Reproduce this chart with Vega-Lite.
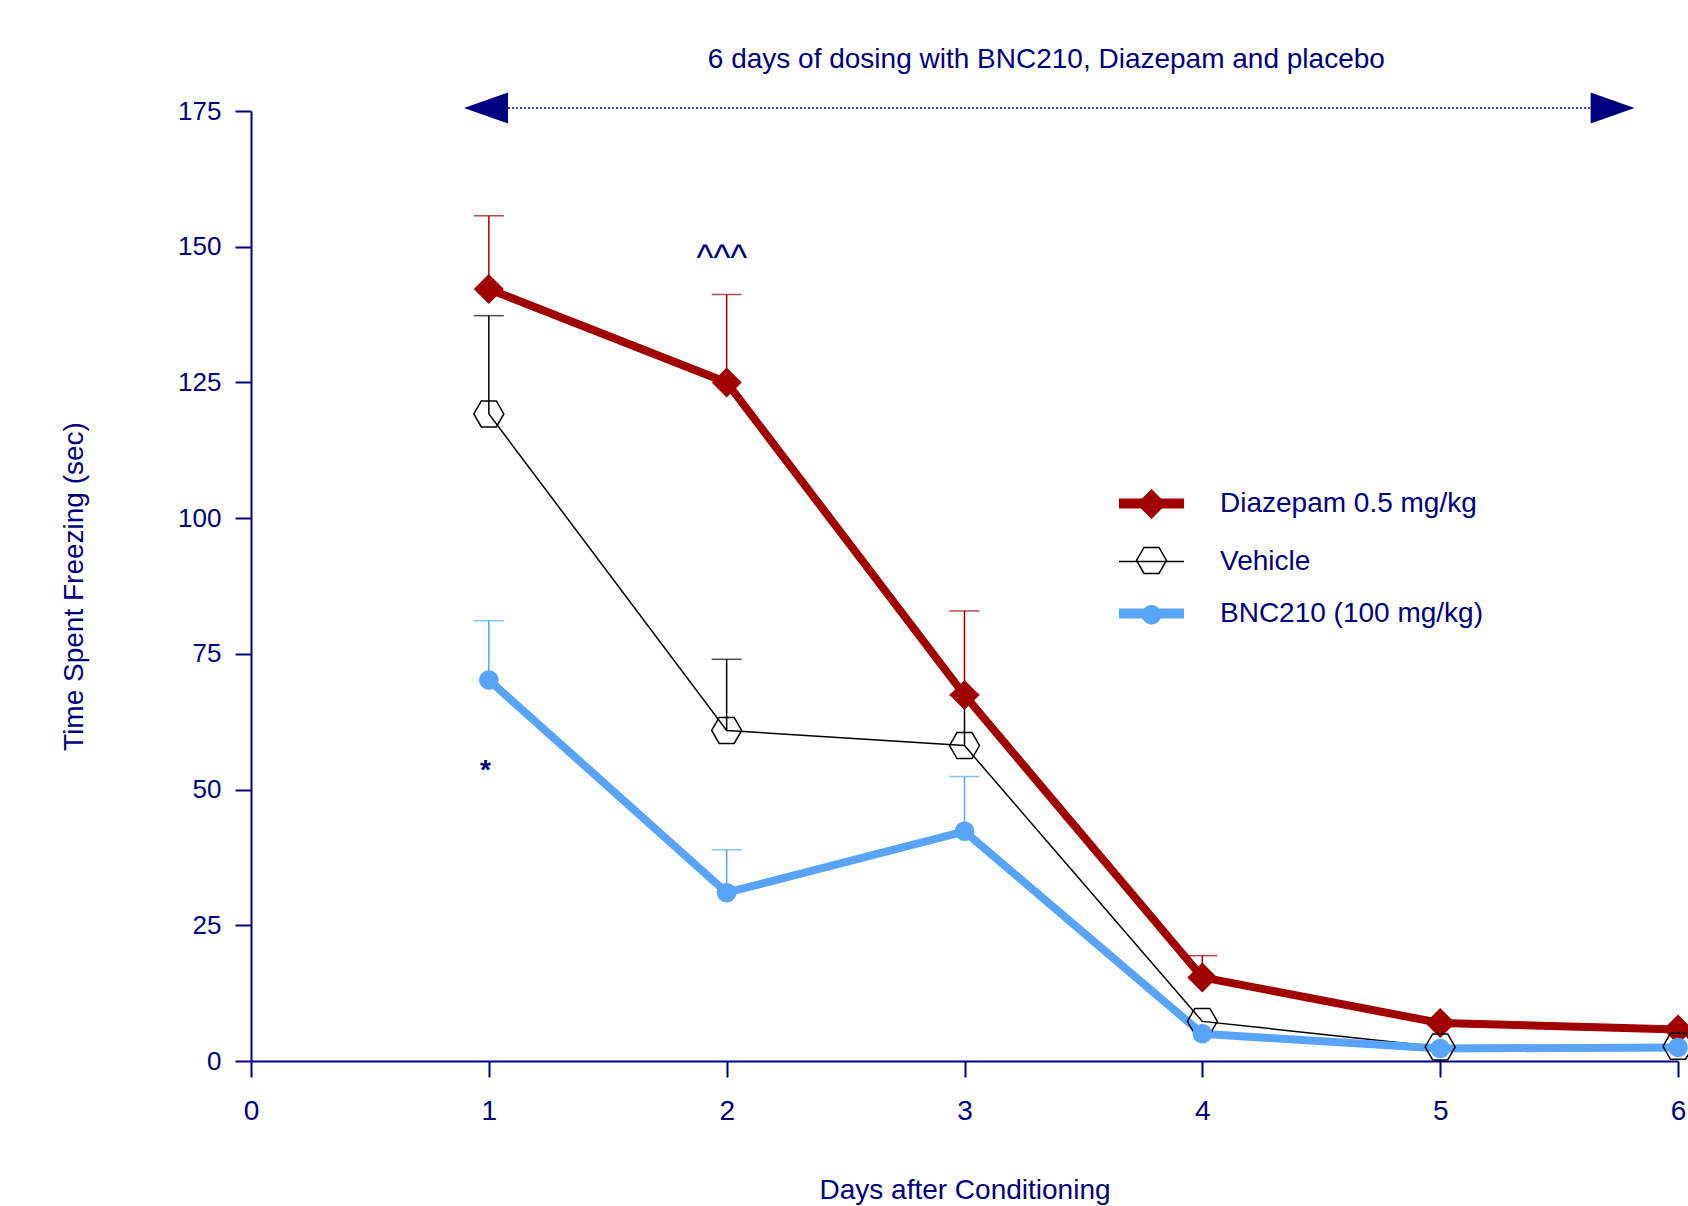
{
  "$schema": "https://vega.github.io/schema/vega-lite/v6.json",
  "width": 1427,
  "height": 950,
  "autosize": {"type": "none"},
  "padding": {"left": 251, "top": 111, "right": 10, "bottom": 145},
  "background": "white",
  "config": {
    "view": {"stroke": null},
    "font": "Liberation Sans",
    "axis": {
      "domainColor": "#000080", "domainWidth": 2,
      "tickColor": "#000080", "tickWidth": 2, "tickSize": 16,
      "labelColor": "#000080", "titleColor": "#000080",
      "titleFontWeight": "normal", "grid": false,
      "labelFont": "Liberation Sans", "titleFont": "Liberation Sans"
    }
  },
  "datasets": {
    "freezing": [
      {"day": 1, "series": "Diazepam 0.5 mg/kg", "mean": 142.2, "upper": 155.7},
      {"day": 2, "series": "Diazepam 0.5 mg/kg", "mean": 125.0, "upper": 141.2},
      {"day": 3, "series": "Diazepam 0.5 mg/kg", "mean": 67.4, "upper": 82.9},
      {"day": 4, "series": "Diazepam 0.5 mg/kg", "mean": 15.4, "upper": 19.4},
      {"day": 5, "series": "Diazepam 0.5 mg/kg", "mean": 7.0, "upper": null},
      {"day": 6, "series": "Diazepam 0.5 mg/kg", "mean": 5.8, "upper": null},
      {"day": 1, "series": "Vehicle", "mean": 119.2, "upper": 137.3},
      {"day": 2, "series": "Vehicle", "mean": 60.9, "upper": 74.0},
      {"day": 3, "series": "Vehicle", "mean": 58.1, "upper": 67.5},
      {"day": 4, "series": "Vehicle", "mean": 7.3, "upper": null},
      {"day": 5, "series": "Vehicle", "mean": 2.6, "upper": null},
      {"day": 6, "series": "Vehicle", "mean": 2.7, "upper": null},
      {"day": 1, "series": "BNC210 (100 mg/kg)", "mean": 70.2, "upper": 81.1},
      {"day": 2, "series": "BNC210 (100 mg/kg)", "mean": 31.0, "upper": 38.9},
      {"day": 3, "series": "BNC210 (100 mg/kg)", "mean": 42.3, "upper": 52.4},
      {"day": 4, "series": "BNC210 (100 mg/kg)", "mean": 5.0, "upper": null},
      {"day": 5, "series": "BNC210 (100 mg/kg)", "mean": 2.3, "upper": null},
      {"day": 6, "series": "BNC210 (100 mg/kg)", "mean": 2.5, "upper": null}
    ]
  },
  "layer": [
    {
      "data": {"name": "freezing"},
      "mark": {"type": "line"},
      "encoding": {
        "x": {"field": "day", "type": "quantitative",
          "scale": {"domain": [0, 6], "nice": false, "zero": true},
          "axis": {"values": [0, 1, 2, 3, 4, 5, 6], "format": "d", "labelFontSize": 28, "labelPadding": 20, "labelFlush": false, "labelOverlap": false,
            "title": "Days after Conditioning", "titleFontSize": 28, "titlePadding": 51}},
        "y": {"field": "mean", "type": "quantitative",
          "scale": {"domain": [0, 175], "nice": false},
          "axis": {"values": [0, 25, 50, 75, 100, 125, 150, 175], "labelFontSize": 26, "labelPadding": 14, "labelOverlap": false,
            "title": "Time Spent Freezing (sec)", "titleFontSize": 28, "titlePadding": 89}},
        "stroke": {"field": "series", "type": "nominal",
          "sort": ["Diazepam 0.5 mg/kg", "Vehicle", "BNC210 (100 mg/kg)"],
          "scale": {"range": ["#a00000", "#000000", "#58a4f8"]},
          "legend": {"orient": "none", "legendX": 863, "legendY": 355, "title": null, "padding": 0,
            "symbolType": "stroke", "symbolSize": 4225, "symbolStrokeWidth": 10,
            "labelFontSize": 28, "labelFont": "Liberation Sans", "labelColor": "#000080", "labelOffset": 31, "labelLimit": 0, "rowPadding": -12,
            "encoding": {"symbols": {"strokeWidth": {"value": {"expr": "(datum.value === 'Vehicle' ? 1.5 : 10)"}}}}}},
        "strokeWidth": {"condition": {"test": "datum.series === 'Vehicle'", "value": 1.5}, "value": 8}
      }
    },
    {
      "data": {"name": "freezing"},
      "transform": [{"filter": {"field": "upper", "valid": true}}],
      "mark": {"type": "rule", "strokeWidth": 1.5},
      "encoding": {
        "x": {"field": "day", "type": "quantitative"},
        "y": {"field": "mean", "type": "quantitative"},
        "y2": {"field": "upper"},
        "color": {"condition": [{"test": "datum.series === 'Vehicle'", "value": "#000000"}, {"test": "datum.series === 'BNC210 (100 mg/kg)'", "value": "#58a4f8"}], "value": "#a00000"}
      }
    },
    {
      "data": {"name": "freezing"},
      "transform": [{"filter": {"field": "upper", "valid": true}}],
      "mark": {"type": "tick", "orient": "horizontal", "size": 30, "thickness": 1.5},
      "encoding": {
        "x": {"field": "day", "type": "quantitative"},
        "y": {"field": "upper", "type": "quantitative"},
        "color": {"condition": [{"test": "datum.series === 'Vehicle'", "value": "#000000"}, {"test": "datum.series === 'BNC210 (100 mg/kg)'", "value": "#58a4f8"}], "value": "#a00000"}
      }
    },
    {
      "data": {"name": "freezing"},
      "mark": {"type": "point", "filled": true, "size": 900, "opacity": 1, "strokeWidth": 1.5},
      "encoding": {
        "x": {"field": "day", "type": "quantitative"},
        "y": {"field": "mean", "type": "quantitative"},
        "fill": {"field": "series", "type": "nominal",
          "scale": {"domain": ["Diazepam 0.5 mg/kg", "Vehicle", "BNC210 (100 mg/kg)"], "range": ["#a00000", "transparent", "#58a4f8"]},
          "legend": {"orient": "none", "legendX": 884.5, "legendY": 377, "title": null, "padding": 0,
            "symbolSize": 900, "symbolStrokeWidth": 1.5, "labelExpr": "''", "labelFontSize": 28, "rowPadding": 22.4,
            "encoding": {"symbols": {"stroke": {"value": {"expr": "(datum.value === 'Vehicle' ? '#000000' : 'transparent')"}}, "strokeWidth": {"value": 1.5}}}}},
        "shape": {"field": "series", "type": "nominal",
          "scale": {"domain": ["Diazepam 0.5 mg/kg", "Vehicle", "BNC210 (100 mg/kg)"], "range": ["M-1,0L0,-1L1,0L0,1Z", "M-1,0L-0.5,-0.866L0.5,-0.866L1,0L0.5,0.866L-0.5,0.866Z", "M-0.65,0A0.65,0.65,0,1,0,0.65,0A0.65,0.65,0,1,0,-0.65,0Z"]},
          "legend": {"orient": "none", "legendX": 884.5, "legendY": 377, "title": null, "padding": 0,
            "symbolSize": 900, "symbolStrokeWidth": 1.5, "labelExpr": "''", "labelFontSize": 28, "rowPadding": 22.4}},
        "stroke": {"condition": {"test": "datum.series === 'Vehicle'", "value": "#000000"}, "value": "transparent"}
      }
    },
    {
      "data": {"values": [{"start": 1.081, "end": 5.635, "level": 175.55}]},
      "mark": {"type": "rule", "color": "#000080", "strokeWidth": 1.5, "strokeDash": [2, 2]},
      "encoding": {
        "x": {"field": "start", "type": "quantitative"},
        "x2": {"field": "end"},
        "y": {"field": "level", "type": "quantitative"}
      }
    },
    {
      "data": {"values": [{"pos": 0.988, "level": 175.55, "dir": "left"}, {"pos": 5.725, "level": 175.55, "dir": "right"}]},
      "mark": {"type": "point", "filled": true, "color": "#000080", "size": 1936, "opacity": 1},
      "encoding": {
        "x": {"field": "pos", "type": "quantitative"},
        "y": {"field": "level", "type": "quantitative"},
        "shape": {"condition": {"test": "datum.dir === 'left'", "value": "M-1,0L1,-0.7L1,0.7Z"}, "value": "M1,0L-1,-0.7L-1,0.7Z"}
      }
    },
    {
      "data": {"values": [{"label": "6 days of dosing with BNC210, Diazepam and placebo", "pos": 3.344, "level": 184.4}]},
      "mark": {"type": "text", "fontSize": 28, "color": "#000080", "align": "center", "baseline": "middle", "font": "Liberation Sans"},
      "encoding": {
        "x": {"field": "pos", "type": "quantitative"},
        "y": {"field": "level", "type": "quantitative"},
        "text": {"field": "label"}
      }
    },
    {
      "data": {"values": [{"label": "^^^", "pos": 1.98, "level": 147.7}]},
      "mark": {"type": "text", "fontSize": 36, "color": "#000080", "align": "center", "baseline": "middle", "font": "Liberation Sans"},
      "encoding": {
        "x": {"field": "pos", "type": "quantitative"},
        "y": {"field": "level", "type": "quantitative"},
        "text": {"field": "label"}
      }
    },
    {
      "data": {"values": [{"label": "*", "pos": 0.986, "level": 53.5}]},
      "mark": {"type": "text", "fontSize": 28, "fontWeight": "bold", "color": "#000080", "align": "center", "baseline": "middle", "font": "Liberation Sans"},
      "encoding": {
        "x": {"field": "pos", "type": "quantitative"},
        "y": {"field": "level", "type": "quantitative"},
        "text": {"field": "label"}
      }
    }
  ]
}
